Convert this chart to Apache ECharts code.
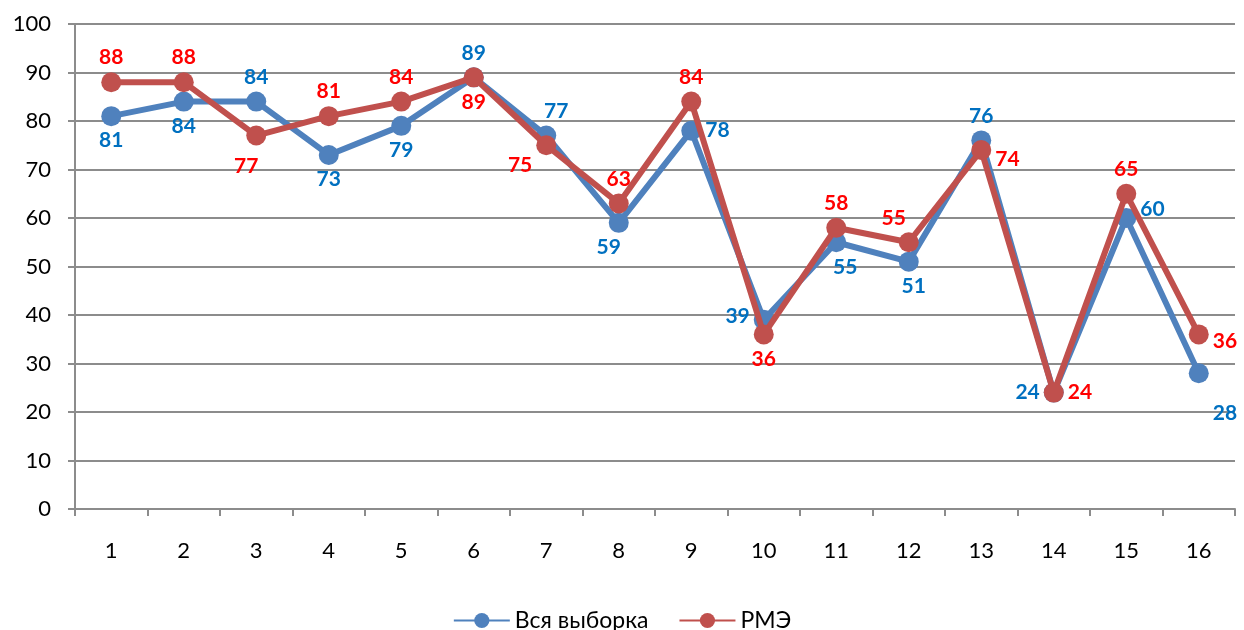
<!DOCTYPE html>
<html>
<head>
<meta charset="utf-8">
<script src="https://cdn.jsdelivr.net/npm/echarts@6/dist/echarts.min.js"></script>
<style>html,body{margin:0;padding:0;background:#fff}#c{width:1244px;height:630px}</style>
</head>
<body>
<div id="c"></div>
<script>
const categories = ['1','2','3','4','5','6','7','8','9','10','11','12','13','14','15','16'];
const seriesNames = ['Вся выборка', 'РМЭ'];
const allSample = [81,84,84,73,79,89,77,59,78,39,55,51,76,24,60,28];
const rme = [88,88,77,81,84,89,75,63,84,36,58,55,74,24,65,36];
const yTicks = {min: 0, max: 100, interval: 10};

// label placement per point (style only)
const blueLabelPos = [
  ['bottom',[0,0]],['bottom',[0,0]],['top',[0,0]],['bottom',[0,0]],['bottom',[0,0]],
  ['top',[0,0]],['top',[10,0]],['bottom',[-10,0]],['right',[0,0]],['left',[0,-4]],
  ['bottom',[9,0]],['bottom',[5,0]],['top',[0,0]],['left',[0,0]],['right',[0,-9]],['right',[0,40]]
];
const redLabelPos = [
  ['top',[0,0]],['top',[0,0]],['bottom',[-10,6]],['top',[0,0]],['top',[0,0]],
  ['bottom',[0,0]],['left',[0,20]],['top',[0,0]],['top',[0,0]],['bottom',[0,0]],
  ['top',[0,0]],['top',[-15,0]],['right',[0,9]],['right',[0,0]],['top',[0,0]],['right',[0,7]]
];

const FONT = 'Lato, "Open Sans", "Noto Sans", sans-serif';

function buildData(values, positions) {
  return values.map((v, i) => ({
    value: v,
    label: {position: positions[i][0], offset: positions[i][1]}
  }));
}

const chart = echarts.init(document.getElementById('c'));
chart.setOption({
  animation: false,
  textStyle: {fontFamily: FONT},
  grid: {left: 75, right: 9, top: 24, bottom: 121},
  legend: {
    bottom: -7,
    left: 'center',
    itemWidth: 56,
    itemHeight: 19,
    itemGap: 30,
    textStyle: {fontSize: 23, color: '#000', fontFamily: FONT},
    data: seriesNames
  },
  xAxis: {
    type: 'category',
    data: categories,
    boundaryGap: true,
    axisLine: {lineStyle: {color: '#8c8c8c', width: 2}},
    axisTick: {show: true, length: 7, alignWithLabel: false, lineStyle: {color: '#8c8c8c', width: 2}},
    axisLabel: {fontSize: 22, color: '#000', margin: 31, fontFamily: FONT},
    splitLine: {show: false}
  },
  yAxis: {
    type: 'value',
    min: yTicks.min, max: yTicks.max, interval: yTicks.interval,
    axisLine: {show: true, lineStyle: {color: '#8c8c8c', width: 2}},
    axisTick: {show: true, length: 7, lineStyle: {color: '#8c8c8c', width: 2}},
    axisLabel: {fontSize: 22, color: '#000', margin: 24, fontFamily: FONT},
    splitLine: {show: true, lineStyle: {color: '#8c8c8c', width: 2}}
  },
  series: [
    {
      name: seriesNames[0],
      type: 'line',
      data: buildData(allSample, blueLabelPos),
      symbol: 'circle',
      symbolSize: 20,
      itemStyle: {color: '#4F81BD'},
      lineStyle: {color: '#4F81BD', width: 6},
      label: {show: true, fontSize: 21, fontWeight: 'bold', color: '#0070C0', distance: 4, fontFamily: FONT},
      z: 2
    },
    {
      name: seriesNames[1],
      type: 'line',
      data: buildData(rme, redLabelPos),
      symbol: 'circle',
      symbolSize: 20,
      itemStyle: {color: '#C0504D'},
      lineStyle: {color: '#C0504D', width: 6},
      label: {show: true, fontSize: 21, fontWeight: 'bold', color: '#FF0000', distance: 4, fontFamily: FONT},
      z: 3
    }
  ]
});
</script>
</body>
</html>
